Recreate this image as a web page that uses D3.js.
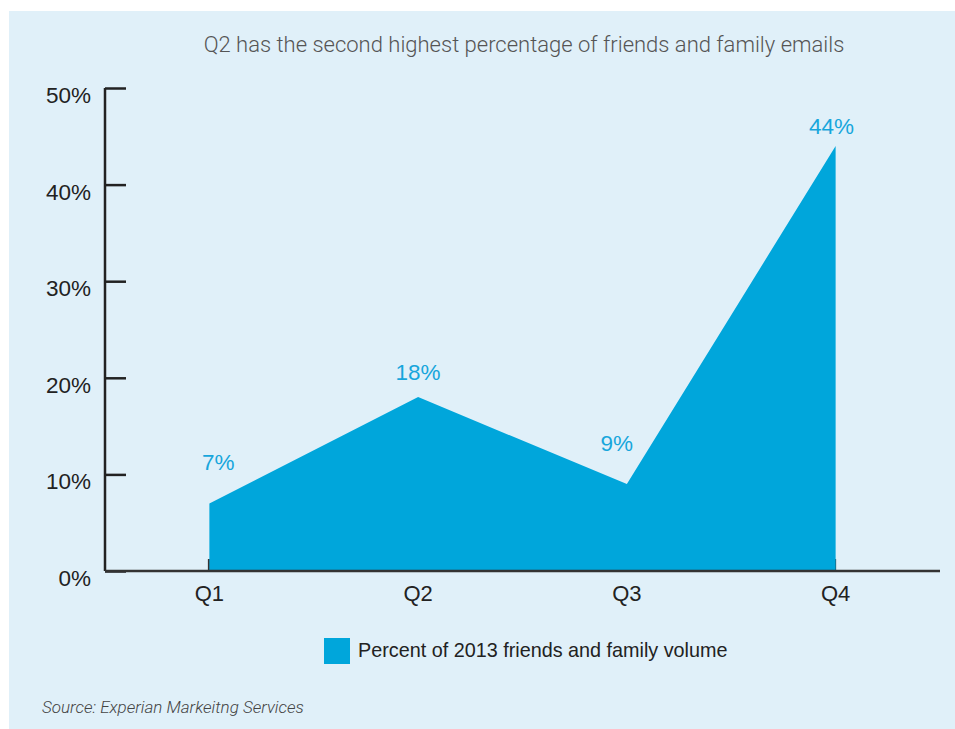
<!DOCTYPE html>
<meta charset="utf-8">
<script src="https://d3js.org/d3.v7.min.js"></script>
<body>
    <style type="text/css">
        html, body { margin: 0; padding: 0; background: #fff; }
        svg { display: block; }
        text { font-family: "Liberation Sans", Arial, Helvetica, sans-serif; }
    </style>
    <svg width="955" height="729"></svg>
    <script>

        // data
        var quarters = ['Q1', 'Q2', 'Q3', 'Q4'];
        var volume = [7, 18, 9, 44];
        var yTicks = [0, 10, 20, 30, 40, 50];
        var title = 'Q2 has the second highest percentage of friends and family emails';
        var legendLabel = 'Percent of 2013 friends and family volume';
        var source = 'Source: Experian Markeitng Services';

        // hand placed value labels (offset from each point)
        var labelDx = [9, 0, -10, -4];
        var labelDy = [-33, -17, -33, -12];

        var blue = '#00a6db';
        var svg = d3.select('svg');

        svg.append('rect')
            .attr('x', 9).attr('y', 11)
            .attr('width', 946).attr('height', 718)
            .attr('fill', '#e0f0f9');

        var x = d3.scaleBand().domain(quarters).range([105, 940]);
        var y = d3.scaleLinear().domain([0, 50]).range([571, 88]);
        var cx = function (q) { return x(q) + x.bandwidth() / 2; };

        var points = quarters.map(function (q, i) { return { q: q, v: volume[i], i: i }; });

        // x ticks go under the area, so only the outer ones peek out
        svg.append('g').selectAll('line')
            .data(quarters)
            .enter().append('line')
            .attr('x1', function (d) { return cx(d) - 0.5; })
            .attr('x2', function (d) { return cx(d) - 0.5; })
            .attr('y1', y(0)).attr('y2', y(0) - 12)
            .attr('stroke', '#333').attr('stroke-width', 2);

        // area
        var area = d3.area()
            .x(function (d) { return cx(d.q); })
            .y0(y(0))
            .y1(function (d) { return y(d.v); });

        svg.append('path')
            .datum(points)
            .attr('fill', blue)
            .attr('d', area);

        // y axis
        var yAxis = svg.append('g')
            .attr('transform', 'translate(105,0)')
            .call(d3.axisRight(y).tickValues(yTicks).tickSize(21).tickFormat(''));
        yAxis.select('.domain').attr('stroke', '#222').attr('stroke-width', 2.5)
            .attr('d', 'M0,' + y(50) + 'V' + y(0));
        yAxis.selectAll('.tick line').attr('stroke', '#222').attr('stroke-width', 2.5);

        svg.append('g').selectAll('text')
            .data(yTicks)
            .enter().append('text')
            .attr('x', 91)
            .attr('y', function (d) { return y(d) + 15; })
            .attr('text-anchor', 'end')
            .attr('font-size', 22.5)
            .attr('fill', '#222')
            .text(function (d) { return d + '%'; });

        // x axis
        var xAxis = svg.append('g')
            .attr('transform', 'translate(0,' + y(0) + ')');
        xAxis.append('line')
            .attr('x1', 105).attr('x2', 940)
            .attr('stroke', '#333').attr('stroke-width', 2.5);
        xAxis.selectAll('text')
            .data(quarters)
            .enter().append('text')
            .attr('x', cx)
            .attr('y', 30)
            .attr('text-anchor', 'middle')
            .attr('font-size', 22)
            .attr('fill', '#222')
            .text(function (d) { return d; });

        // value labels
        svg.append('g').selectAll('text')
            .data(points)
            .enter().append('text')
            .attr('x', function (d) { return cx(d.q) + labelDx[d.i]; })
            .attr('y', function (d) { return y(d.v) + labelDy[d.i]; })
            .attr('text-anchor', 'middle')
            .attr('font-size', 22.5)
            .attr('fill', '#17a6dc')
            .text(function (d) { return d.v + '%'; });

        // title
        svg.append('text')
            .attr('x', 524).attr('y', 52)
            .attr('text-anchor', 'middle')
            .attr('font-size', 22)
            .attr('fill', '#555')
            .style('font-family', 'Roboto, "Liberation Sans", sans-serif')
            .style('font-weight', 300)
            .text(title);

        // legend
        svg.append('rect')
            .attr('x', 324).attr('y', 638)
            .attr('width', 26).attr('height', 26)
            .attr('fill', blue);
        svg.append('text')
            .attr('x', 358).attr('y', 657)
            .attr('font-size', 19.8)
            .attr('fill', '#222')
            .text(legendLabel);

        // source
        svg.append('text')
            .attr('x', 42).attr('y', 713)
            .attr('font-size', 17)
            .attr('font-style', 'italic')
            .attr('fill', '#444')
            .style('font-family', 'Roboto, "Liberation Sans", sans-serif')
            .style('font-weight', 300)
            .text(source);

    </script>
</body>
